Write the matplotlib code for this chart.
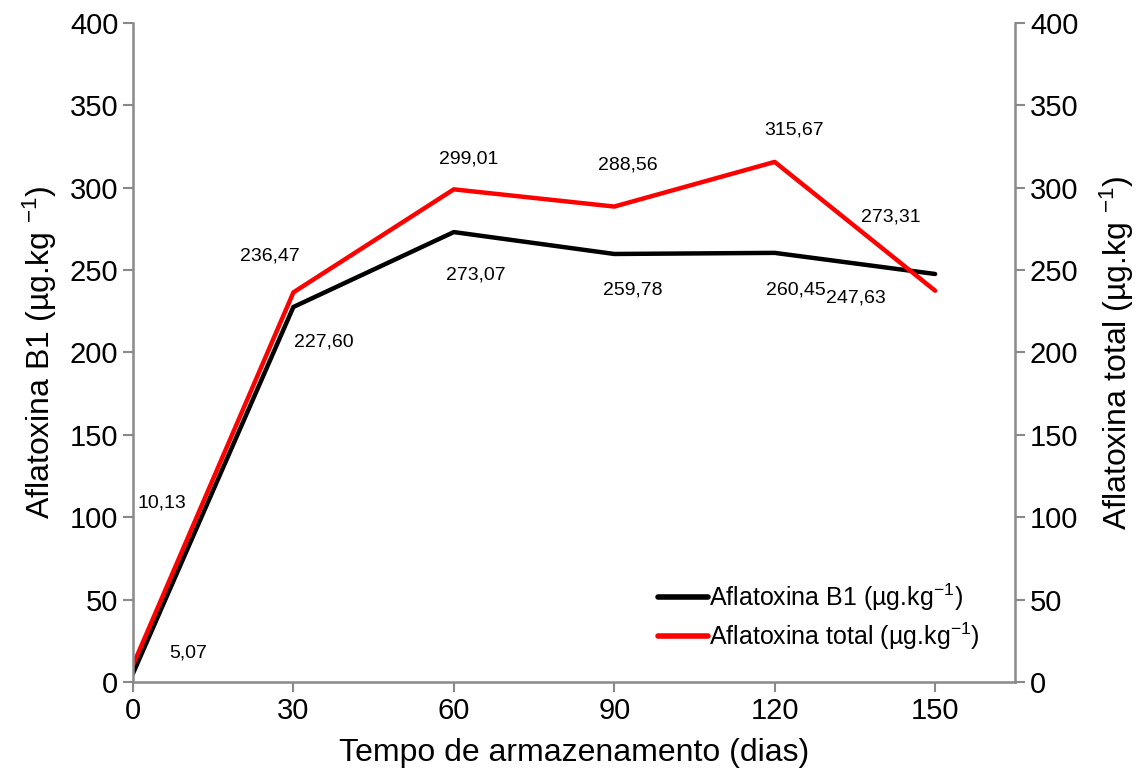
import matplotlib
matplotlib.use('Agg')
import matplotlib.pyplot as plt

plt.rcParams['font.family'] = ['Liberation Sans', 'DejaVu Sans']
plt.rcParams['mathtext.fontset'] = 'custom'
plt.rcParams['mathtext.rm'] = 'Liberation Sans'
plt.rcParams['mathtext.it'] = 'Liberation Sans'

# --- data ---
days = [0, 30, 60, 90, 120, 150]
b1 = [5.07, 227.60, 273.07, 259.78, 260.45, 247.63]
total = [10.13, 236.47, 299.01, 288.56, 315.67, 237.5]
b1_labels = ['5,07', '227,60', '273,07', '259,78', '260,45', '247,63']
total_labels = ['10,13', '236,47', '299,01', '288,56', '315,67', '273,31']

# label offsets (points)
b1_off = [(40, 15), (22, -25), (16, -31), (13, -26), (15, -27), (-57, -17)]
total_off = [(21, 117), (-17, 26), (11, 22), (10, 30), (14, 23), (-32, 53)]

grey = '#898989'

fig = plt.figure(figsize=(11.46, 7.81), dpi=100)
ax = fig.add_axes([0.116, 0.1268, 0.77, 0.8438])
ax2 = ax.twinx()

l1, = ax.plot(days, b1, color='black', lw=3.2, solid_capstyle='round',
              label='Aflatoxina B1 (µg.kg$^{-1}$)')
l2, = ax.plot(days, total, color='#ff0000', lw=3.2, solid_capstyle='round',
              label='Aflatoxina total (µg.kg$^{-1}$)')

for x, y, t, o in zip(days, b1, b1_labels, b1_off):
    ax.annotate(t, (x, y), xytext=o, textcoords='offset points',
                ha='center', va='center', fontsize=14)
for x, y, t, o in zip(days, total, total_labels, total_off):
    ax.annotate(t, (x, y), xytext=o, textcoords='offset points',
                ha='center', va='center', fontsize=14)

for a in (ax, ax2):
    a.set_xlim(0, 165)
    a.set_ylim(0, 400)
    a.set_yticks(range(0, 401, 50))
    for s in a.spines.values():
        s.set_color(grey)
        s.set_linewidth(1.8)
    a.spines['top'].set_visible(False)
    a.tick_params(colors=grey, labelcolor='black', labelsize=21,
                  width=1.5, length=7)
ax.spines['right'].set_visible(False)
ax2.spines['left'].set_visible(False)
ax2.spines['bottom'].set_visible(False)

ax.set_xticks(days)
ax.set_xlabel('Tempo de armazenamento (dias)', fontsize=23, labelpad=10)
ax.set_ylabel('Aflatoxina B1 (µg.kg $^{-1}$)', fontsize=23, labelpad=8)
ax2.set_ylabel('Aflatoxina total (µg.kg $^{-1}$)', fontsize=23, labelpad=14)

leg = ax.legend(handles=[l1, l2], loc='lower right', bbox_to_anchor=(0.985, 0.012),
                frameon=False, fontsize=18, handlelength=2.0, handletextpad=0.05,
                labelspacing=0.3)
for h in leg.legend_handles:
    h.set_linewidth(4)

fig.savefig('out.png', dpi=100)
